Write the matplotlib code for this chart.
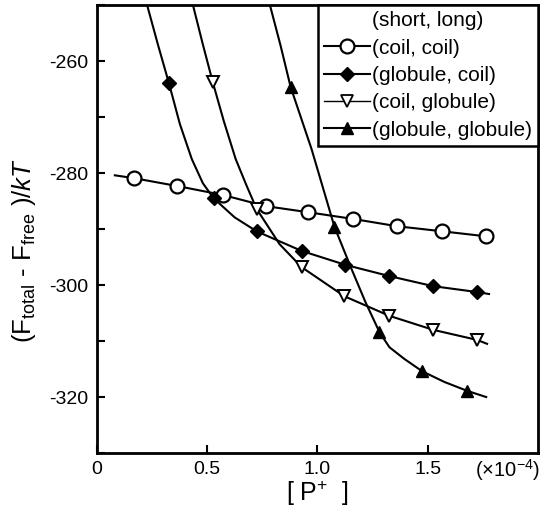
import matplotlib
matplotlib.use('Agg')
import matplotlib.pyplot as plt
import matplotlib.transforms as mtransforms

plt.rcParams['font.family'] = ['Liberation Sans', 'DejaVu Sans']
plt.rcParams['mathtext.fontset'] = 'custom'
plt.rcParams['mathtext.rm'] = 'Liberation Sans'
plt.rcParams['mathtext.it'] = 'Liberation Sans:italic'

# marker positions, x in units of 1e-4
cc_x = [0.167, 0.362, 0.570, 0.765, 0.959, 1.163, 1.362, 1.566, 1.765]
cc_y = [-280.9, -282.3, -283.9, -285.9, -287.0, -288.2, -289.5, -290.4, -291.3]
gc_x = [0.326, 0.529, 0.724, 0.928, 1.127, 1.326, 1.525, 1.724]
gc_y = [-263.9, -284.5, -290.4, -293.9, -296.4, -298.4, -300.2, -301.25]
cg_x = [0.525, 0.724, 0.928, 1.122, 1.326, 1.525, 1.724]
cg_y = [-263.75, -286.4, -296.8, -302.0, -305.5, -308.0, -309.8]
gg_x = [0.878, 1.077, 1.281, 1.475, 1.679]
gg_y = [-264.6, -289.6, -308.4, -315.4, -318.9]

# fitted curves, points
cc_line_x = [0.081] + cc_x + [1.79]
cc_line_y = [-280.4] + cc_y + [-291.4]
gc_line_x = [0.226, 0.276, 0.326, 0.376, 0.430, 0.480, 0.529, 0.624, 0.724,
             0.928, 1.127, 1.326, 1.525, 1.724, 1.778]
gc_line_y = [-249.8, -257.0, -263.9, -271.25, -277.5, -281.8, -284.5, -287.9, -290.4,
             -293.9, -296.4, -298.4, -300.2, -301.25, -301.6]
cg_line_x = [0.434, 0.480, 0.525, 0.575, 0.629, 0.679, 0.724, 0.828, 0.928,
             1.122, 1.326, 1.525, 1.724, 1.769]
cg_line_y = [-249.8, -257.0, -263.75, -270.7, -277.5, -282.3, -286.4, -292.7, -296.8,
             -302.0, -305.5, -308.0, -309.8, -310.5]
gg_line_x = [0.783, 0.833, 0.878, 0.973, 1.077, 1.154, 1.217, 1.281, 1.326,
             1.394, 1.475, 1.575, 1.679, 1.765]
gg_line_y = [-249.8, -257.3, -264.6, -275.7, -289.6, -297.1, -303.0, -308.4, -311.1,
             -313.2, -315.4, -317.3, -318.9, -320.0]

labels = ['(coil, coil)', '(globule, coil)', '(coil, globule)', '(globule, globule)']

fig = plt.figure(figsize=(5.4, 5.12), dpi=100)
ax = fig.add_axes([0.1796, 0.1152, 0.8167, 0.8748])

lw = 1.5
ax.plot(cc_line_x, cc_line_y, color='black', lw=lw)
ax.plot(gc_line_x, gc_line_y, color='black', lw=lw)
ax.plot(cg_line_x, cg_line_y, color='black', lw=lw)
ax.plot(gg_line_x, gg_line_y, color='black', lw=lw)

ax.plot(cc_x, cc_y, 'o', ms=10, mfc='white', mec='black', mew=1.6)
ax.plot(gc_x, gc_y, 'D', ms=7.5, mfc='black', mec='black')
ax.plot(cg_x, cg_y, 'v', ms=9, mfc='white', mec='black', mew=1.4)
ax.plot(gg_x, gg_y, '^', ms=9, mfc='black', mec='black')

# legend handles: line with marker
h1, = ax.plot([], [], '-o', color='black', lw=lw, ms=10, mfc='white', mew=1.6)
h2, = ax.plot([], [], '-D', color='black', lw=lw, ms=7.5)
h3, = ax.plot([], [], '-v', color='black', lw=1.0, ms=8, mfc='white', mew=1.3)
h4, = ax.plot([], [], '-^', color='black', lw=lw, ms=8)
leg = ax.legend([h1, h2, h3, h4], labels, title='(short, long)', loc='upper right',
                bbox_to_anchor=(1.0, 1.0), borderaxespad=0, fancybox=False,
                framealpha=1, edgecolor='black', fontsize=15, title_fontsize=15,
                handlelength=2.2, handletextpad=0.1, labelspacing=0.4,
                borderpad=0.3)
leg.get_frame().set_linewidth(1.8)

ax.set_xlim(0, 2.0)
ax.set_ylim(-330, -250)

ax.set_xticks([0, 0.5, 1.0, 1.5])
ax.set_xticklabels(['0', '0.5', '1.0', '1.5'])
ax.set_yticks([-320, -300, -280, -260])
ax.set_yticklabels(['-320', '-300', '-280', '-260'])
ax.set_yticks([-330, -310, -290, -270, -250], minor=True)
ax.tick_params(which='both', direction='in', length=6, width=1.5, labelsize=14, pad=6)

for s in ax.spines.values():
    s.set_linewidth(2)

trans = mtransforms.blended_transform_factory(ax.transData, ax.transAxes)
ax.text(1.86, -0.038, r'($\times$10$^{-4}$)', transform=trans, ha='center', va='center',
        fontsize=14.5)

ax.set_xlabel(r'[ P$^{+}$  ]', fontsize=18, labelpad=0)
ax.set_ylabel(r'(F$_{\mathrm{total}}$ - F$_{\mathrm{free}}$ )/$kT$', fontsize=18.5)
ax.yaxis.set_label_coords(-0.134, 0.451)

fig.savefig('out.png', dpi=100)
